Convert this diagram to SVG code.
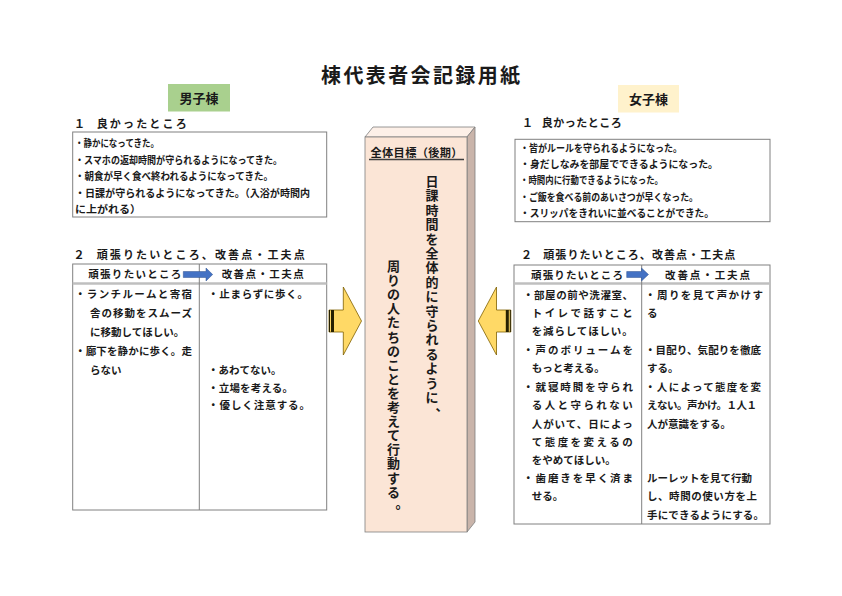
<svg xmlns="http://www.w3.org/2000/svg" width="842" height="596" viewBox="0 0 842 596">
<defs>
<style>
text{font-family:"Noto Sans CJK JP","Liberation Sans",sans-serif;font-weight:bold;fill:#1a1a1a;dominant-baseline:central}
.t10{font-size:10.3px}
.t11{font-size:10.5px}
.h{font-size:11px}
.box{fill:#fff;stroke:#808080;stroke-width:1}
.ln{stroke:#808080;stroke-width:1;fill:none}
.sep{stroke:#bfbfbf;stroke-width:2.5;fill:none}
.ya{fill:#ffd966;stroke:#7f6000;stroke-width:0.8}
.stripe{fill:#262000}
.ba{fill:#4472c4;stroke:#2f528f;stroke-width:0.5}
.vt{text-anchor:middle;font-size:13px}
</style>
</defs>
<rect width="842" height="596" fill="#fff"/>

<g id="title">
<text x="321" y="74" style="font-size:20px" textLength="199" lengthAdjust="spacing">棟代表者会記録用紙</text>
</g>

<g id="boys-label">
<rect x="168" y="84" width="62" height="27.5" fill="#a9d08e"/>
<text x="199" y="97.5" text-anchor="middle" style="font-size:13px">男子棟</text>
</g>

<g id="girls-label">
<rect x="618" y="85" width="61" height="27.5" fill="#fff2cc"/>
<text x="648.5" y="98.5" text-anchor="middle" style="font-size:13px">女子棟</text>
</g>

<g id="boys-good">
<text class="h" x="74" y="122.5">１</text>
<text class="h" x="96.7" y="122.5" textLength="90" lengthAdjust="spacing">良かったところ</text>
<rect class="box" x="72.7" y="132" width="254" height="85"/>
<text class="t10" x="75" y="142" textLength="84" lengthAdjust="spacingAndGlyphs">・静かになってきた。</text>
<text class="t10" x="75" y="159" textLength="207" lengthAdjust="spacingAndGlyphs">・スマホの返却時間が守られるようになってきた。</text>
<text class="t10" x="75" y="175.5" textLength="198" lengthAdjust="spacingAndGlyphs">・朝食が早く食べ終われるようになってきた。</text>
<text class="t10" x="75" y="192" textLength="235" lengthAdjust="spacingAndGlyphs">・日課が守られるようになってきた。（入浴が時間内</text>
<text class="t10" x="75" y="208.5" textLength="66" lengthAdjust="spacingAndGlyphs">に上がれる）</text>
</g>

<g id="boys-improve">
<text class="h" x="73.5" y="253.5">２</text>
<text class="h" x="96.7" y="253.5" textLength="208" lengthAdjust="spacing">頑張りたいところ、改善点・工夫点</text>
<rect class="box" x="72.7" y="264" width="254" height="246"/>
<line class="sep" x1="72.7" y1="283.5" x2="326.7" y2="283.5"/>
<line class="ln" x1="199.3" y1="264" x2="199.3" y2="510"/>
<text class="t11" x="88.3" y="273.5" textLength="93" lengthAdjust="spacing">頑張りたいところ</text>
<text class="t11" x="221.7" y="273.5" textLength="82" lengthAdjust="spacing">改善点・工夫点</text>
<text class="t11" x="75" y="293.5" textLength="117" lengthAdjust="spacing">・ランチルームと寄宿</text>
<text class="t11" x="90" y="312.5" textLength="102" lengthAdjust="spacing">舎の移動をスムーズ</text>
<text class="t11" x="90" y="331.5">に移動してほしい。</text>
<text class="t11" x="75" y="350" textLength="117" lengthAdjust="spacing">・廊下を静かに歩く。走</text>
<text class="t11" x="90" y="369">らない</text>
<text class="t11" x="208" y="293.5" textLength="100" lengthAdjust="spacing">・止まらずに歩く。</text>
<text class="t11" x="208" y="369">・あわてない。</text>
<text class="t11" x="208" y="387" textLength="85" lengthAdjust="spacing">・立場を考える。</text>
<text class="t11" x="208" y="404.5" textLength="102" lengthAdjust="spacing">・優しく注意する。</text>
</g>

<g id="girls-good">
<text class="h" x="522" y="122">１</text>
<text class="h" x="541.7" y="122" textLength="80" lengthAdjust="spacing">良かったところ</text>
<rect class="box" x="515" y="139.3" width="255" height="82.4"/>
<text class="t10" x="520" y="147" textLength="162" lengthAdjust="spacingAndGlyphs">・皆がルールを守られるようになった。</text>
<text class="t10" x="520" y="163.3" textLength="198" lengthAdjust="spacingAndGlyphs">・身だしなみを部屋でできるようになった。</text>
<text class="t10" x="520" y="179.8" textLength="143" lengthAdjust="spacingAndGlyphs">・時間内に行動できるようになった。</text>
<text class="t10" x="520" y="196.2" textLength="178" lengthAdjust="spacingAndGlyphs">・ご飯を食べる前のあいさつが早くなった。</text>
<text class="t10" x="520" y="212.7" textLength="194" lengthAdjust="spacingAndGlyphs">・スリッパをきれいに並べることができた。</text>
</g>

<g id="girls-improve">
<text class="h" x="521" y="254">２</text>
<text class="h" x="543.3" y="254" textLength="192" lengthAdjust="spacing">頑張りたいところ、改善点・工夫点</text>
<rect class="box" x="514" y="265" width="256" height="259"/>
<line class="sep" x1="514" y1="283.5" x2="770" y2="283.5"/>
<line class="ln" x1="641.7" y1="265" x2="641.7" y2="524"/>
<text class="t11" x="531" y="274.3" textLength="92" lengthAdjust="spacing">頑張りたいところ</text>
<text class="t11" x="665" y="274.3" textLength="85" lengthAdjust="spacing">改善点・工夫点</text>
<text class="t11" x="523" y="294" textLength="110" lengthAdjust="spacing">・部屋の前や洗濯室、</text>
<text class="t11" x="531.7" y="312.5" textLength="101" lengthAdjust="spacing">トイレで話すこと</text>
<text class="t11" x="531.7" y="330.8" textLength="101" lengthAdjust="spacing">を減らしてほしい。</text>
<text class="t11" x="523" y="349.3" textLength="110" lengthAdjust="spacing">・声のボリュームを</text>
<text class="t11" x="531.7" y="367.5">もっと考える。</text>
<text class="t11" x="523" y="386.3" textLength="110" lengthAdjust="spacing">・就寝時間を守られ</text>
<text class="t11" x="531.7" y="404.7" textLength="101" lengthAdjust="spacing">る人と守られない</text>
<text class="t11" x="531.7" y="423" textLength="101" lengthAdjust="spacing">人がいて、日によっ</text>
<text class="t11" x="531.7" y="441.2" textLength="101" lengthAdjust="spacing">て態度を変えるの</text>
<text class="t11" x="531.7" y="459.4">をやめてほしい。</text>
<text class="t11" x="523" y="477" textLength="110" lengthAdjust="spacing">・歯磨きを早く済ま</text>
<text class="t11" x="531.7" y="495">せる。</text>
<text class="t11" x="645" y="294" textLength="118" lengthAdjust="spacing">・周りを見て声かけす</text>
<text class="t11" x="647" y="312.5">る</text>
<text class="t11" x="645" y="349.3" textLength="116" lengthAdjust="spacing">・目配り、気配りを徹底</text>
<text class="t11" x="647" y="367.5">する。</text>
<text class="t11" x="645" y="386.3" textLength="116" lengthAdjust="spacing">・人によって態度を変</text>
<text class="t11" x="647" y="404.7" textLength="110" lengthAdjust="spacing">えない。声かけ。１人１</text>
<text class="t11" x="647" y="423">人が意識をする。</text>
<text class="t11" x="647" y="477" textLength="105" lengthAdjust="spacing">ルーレットを見て行動</text>
<text class="t11" x="647" y="495" textLength="110" lengthAdjust="spacing">し、時間の使い方を上</text>
<text class="t11" x="647" y="514.3" textLength="117" lengthAdjust="spacing">手にできるようにする。</text>
</g>

<g id="pillar">
<polygon points="365,137 373,127 475,127 467,137" fill="#fdf0e8" stroke="#7f7f7f" stroke-width="0.8"/>
<polygon points="467,137 475,127 475,522 467,532" fill="#c9b4aa" stroke="#7f7f7f" stroke-width="0.8"/>
<rect x="365" y="137" width="102" height="395" fill="#fbe5d6" stroke="#7f7f7f" stroke-width="0.8"/>
<text x="370.5" y="151.7" style="font-size:11.2px" textLength="92" lengthAdjust="spacing">全体目標（後期）</text>
<line x1="369" y1="159.5" x2="464" y2="159.5" stroke="#3f3f3f" stroke-width="1.6"/>
<text class="vt"><tspan x="432" y="180">日</tspan><tspan x="432" y="194.4">課</tspan><tspan x="432" y="208.8">時</tspan><tspan x="432" y="223.2">間</tspan><tspan x="432" y="237.6">を</tspan><tspan x="432" y="252">全</tspan><tspan x="432" y="266.4">体</tspan><tspan x="432" y="280.8">的</tspan><tspan x="432" y="295.2">に</tspan><tspan x="432" y="309.6">守</tspan><tspan x="432" y="324">ら</tspan><tspan x="432" y="338.4">れ</tspan><tspan x="432" y="352.8">る</tspan><tspan x="432" y="367.2">よ</tspan><tspan x="432" y="381.6">う</tspan><tspan x="432" y="396">に</tspan><tspan x="442" y="403.5">、</tspan></text>
<text class="vt"><tspan x="393.5" y="265">周</tspan><tspan x="393.5" y="279.1">り</tspan><tspan x="393.5" y="293.2">の</tspan><tspan x="393.5" y="307.3">人</tspan><tspan x="393.5" y="321.4">た</tspan><tspan x="393.5" y="335.5">ち</tspan><tspan x="393.5" y="349.6">の</tspan><tspan x="393.5" y="363.7">こ</tspan><tspan x="393.5" y="377.8">と</tspan><tspan x="393.5" y="391.9">を</tspan><tspan x="393.5" y="406">考</tspan><tspan x="393.5" y="420.1">え</tspan><tspan x="393.5" y="434.2">て</tspan><tspan x="393.5" y="448.3">行</tspan><tspan x="393.5" y="462.4">動</tspan><tspan x="393.5" y="476.5">す</tspan><tspan x="393.5" y="490.6">る</tspan><tspan x="402" y="502">。</tspan></text>
</g>

<g id="connectors">
<polygon class="ya" points="329,310 343.3,310 343.3,287 361.5,321 343.3,355 343.3,332 329,332"/>
<rect class="stripe" x="329" y="310" width="1" height="22"/>
<rect class="stripe" x="331" y="310" width="3" height="22"/>
<polygon class="ya" points="510.8,310 496.5,310 496.5,287 478.3,321 496.5,355 496.5,332 510.8,332"/>
<rect class="stripe" x="509.8" y="310" width="1" height="22"/>
<rect class="stripe" x="505.8" y="310" width="3" height="22"/>
<polygon class="ba" points="183.3,271.5 206,271.5 206,268 212.7,274.5 206,281 206,277.5 183.3,277.5"/>
<polygon class="ba" points="626.7,271.5 641.5,271.5 641.5,268 648.5,274.5 641.5,281 641.5,277.5 626.7,277.5"/>
</g>
</svg>
